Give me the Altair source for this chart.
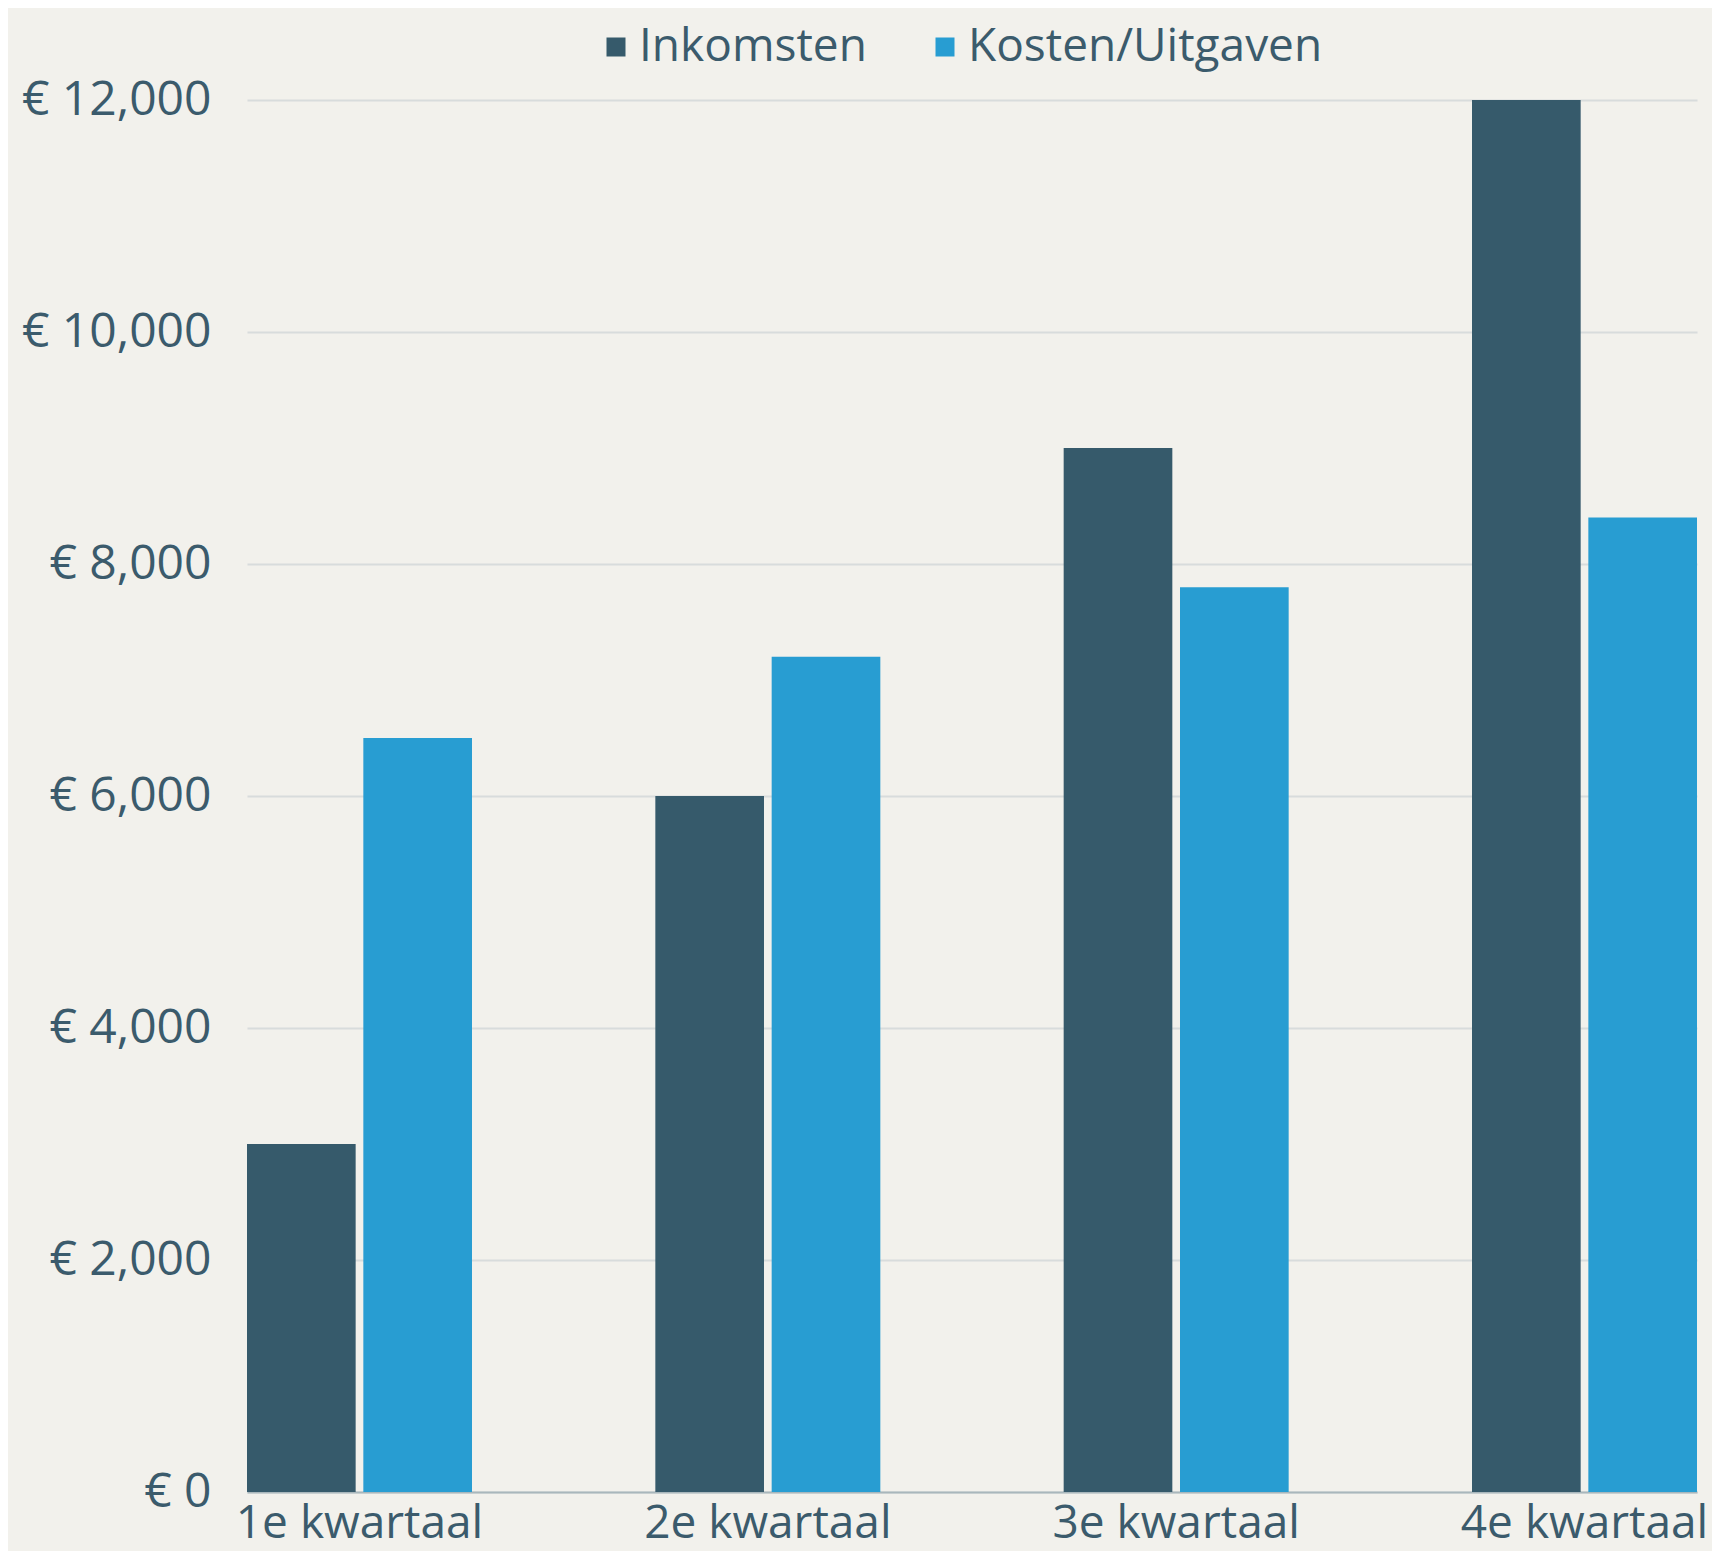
import altair as alt
import pandas as pd

quarters = ["1e kwartaal", "2e kwartaal", "3e kwartaal", "4e kwartaal"]
series = ["Inkomsten", "Kosten/Uitgaven"]
inkomsten = [3000, 6000, 9000, 12000]
kosten = [6500, 7200, 7800, 8400]
y_ticks = [0, 2000, 4000, 6000, 8000, 10000, 12000]
colors = ["#365a6b", "#289dd2"]

rows = []
for q, a, b in zip(quarters, inkomsten, kosten):
    rows.append({"kwartaal": q, "reeks": series[0], "waarde": a})
    rows.append({"kwartaal": q, "reeks": series[1], "waarde": b})
df = pd.DataFrame(rows)

text_color = "#3b5b6c"

chart = (
    alt.Chart(df)
    .mark_bar()
    .encode(
        x=alt.X(
            "kwartaal:N",
            sort=quarters,
            scale=alt.Scale(paddingInner=0.449, paddingOuter=0),
            axis=alt.Axis(
                title=None,
                labelAngle=0,
                labelFontSize=46,
                labelColor=text_color,
                labelPadding=9,
                labelLimit=1000,
                labelOverlap=False,
                ticks=False,
                domainColor="#a9b7bc",
                domainWidth=2,
                grid=False,
            ),
        ),
        xOffset=alt.XOffset(
            "reeks:N",
            sort=series,
            scale=alt.Scale(paddingInner=0.066, paddingOuter=0),
        ),
        y=alt.Y(
            "waarde:Q",
            scale=alt.Scale(domain=[0, 12000], nice=False),
            axis=alt.Axis(
                title=None,
                values=y_ticks,
                labelExpr="'€ ' + format(datum.value, ',')",
                labelFontSize=48,
                labelColor=text_color,
                labelPadding=36,
                labelLimit=1000,
                ticks=False,
                domain=False,
                gridColor="#d8dcdc",
                gridWidth=2,
            ),
        ),
        color=alt.Color(
            "reeks:N",
            sort=series,
            scale=alt.Scale(domain=series, range=colors),
            legend=alt.Legend(
                title=None,
                orient="none",
                legendX=346,
                legendY=-76,
                direction="horizontal",
                symbolType="square",
                symbolSize=361,
                symbolStrokeWidth=0,
                labelFontSize=46,
                labelColor=text_color,
                labelLimit=1000,
                labelOffset=0,
                columnPadding=55,
            ),
        ),
    )
    .properties(
        width=1450,
        height=1392,
        autosize=alt.AutoSizeParams(type="none"),
        padding={"left": 239, "top": 92, "right": 15, "bottom": 59},
        background="#f2f1ec",
    )
    .configure(font="Open Sans")
    .configure_view(stroke=None)
)

chart.save("out.html", embed_options={"renderer": "svg", "actions": False})
